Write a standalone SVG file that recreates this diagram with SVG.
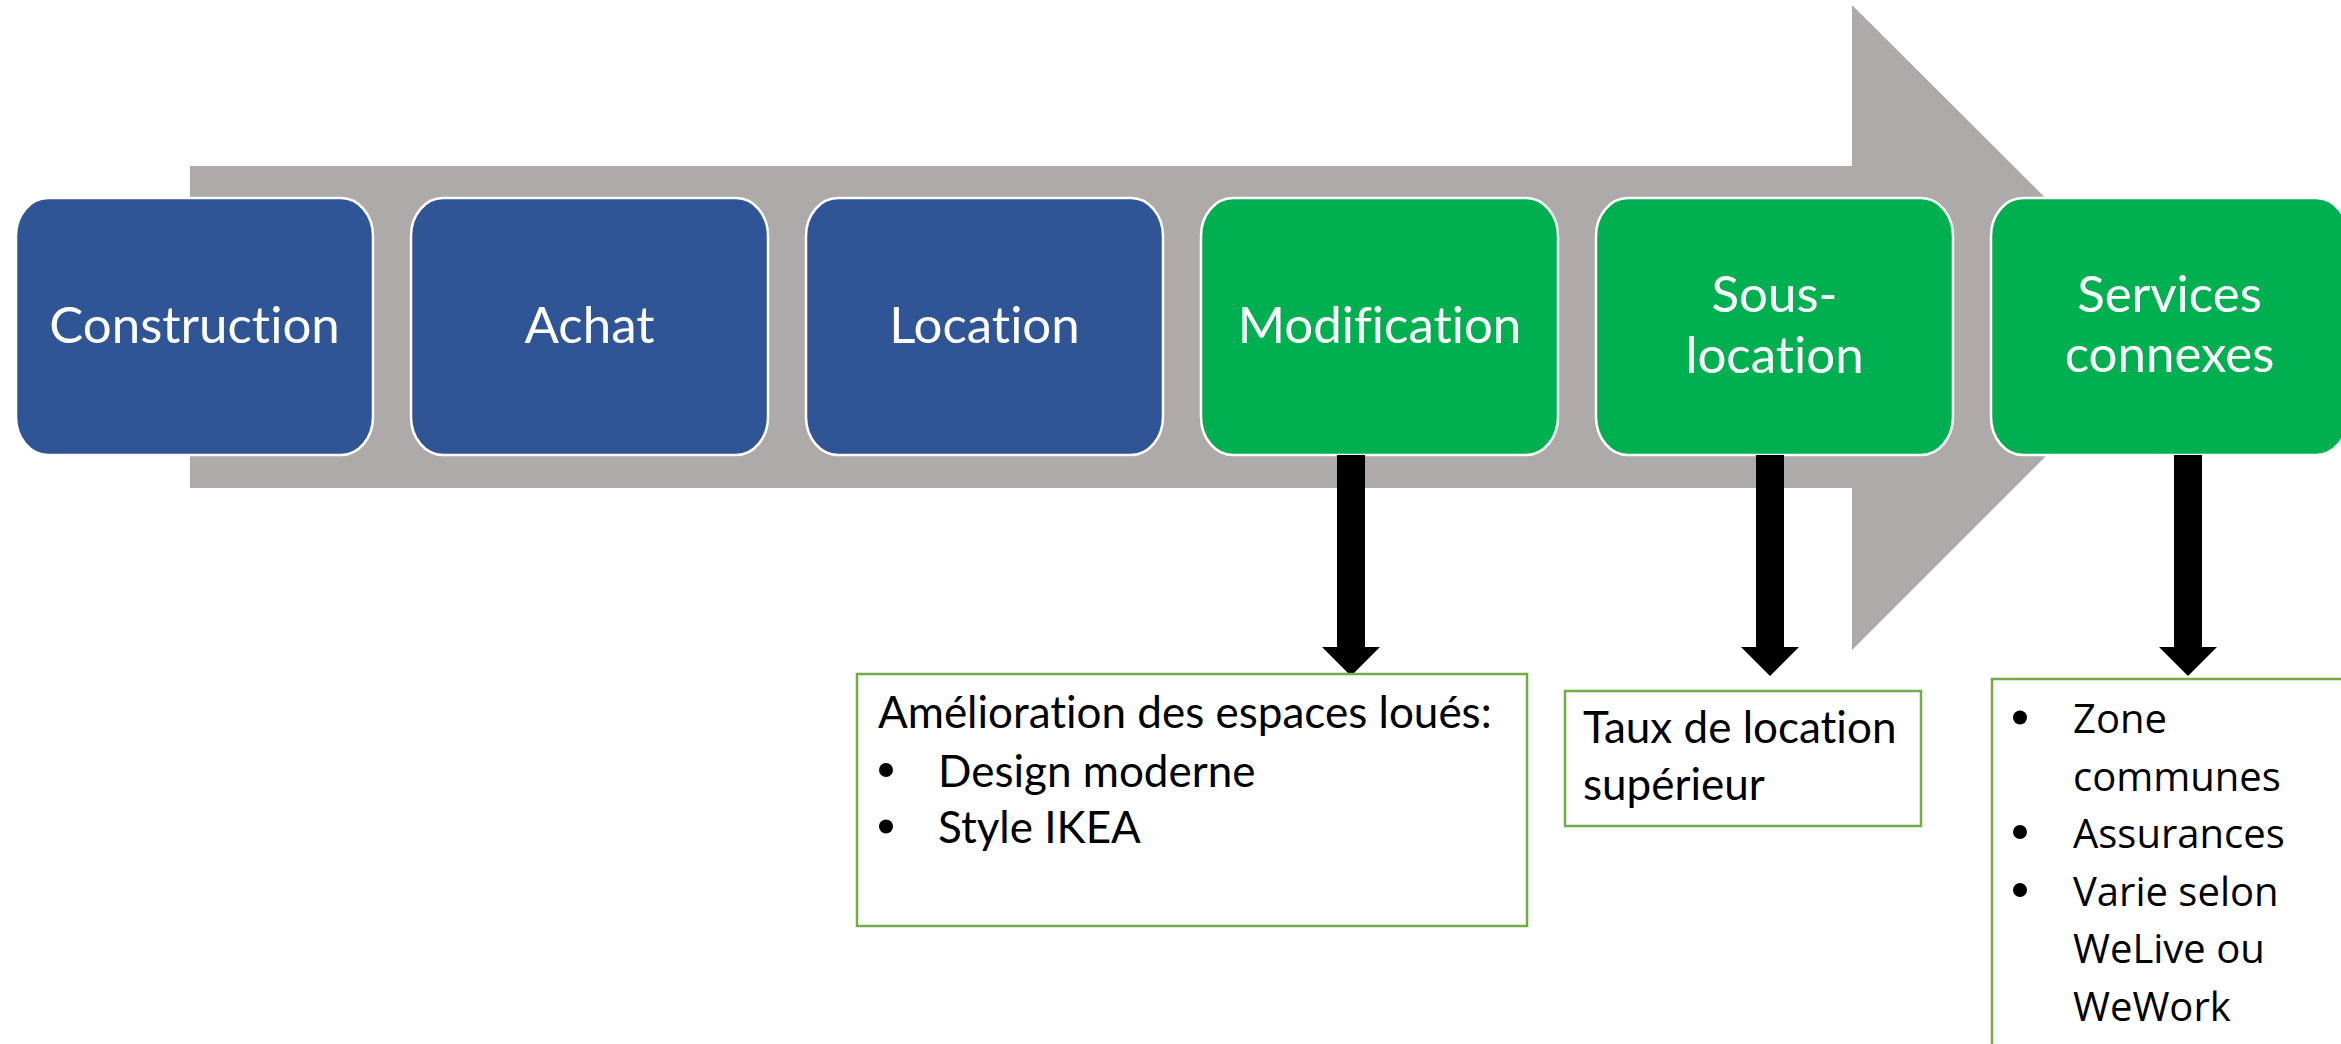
<svg xmlns="http://www.w3.org/2000/svg" width="2341" height="1044" viewBox="0 0 2341 1044">
  <style>
    text { font-variant-ligatures: none; }
    .step { stroke: #FFFFFF; stroke-width: 2.5; }
    .blue { fill: #2F5597; }
    .green { fill: #00B050; }
    .label { font-family: Lato, "Liberation Sans", sans-serif; font-size: 51px; fill: #FFFFFF; text-anchor: middle; }
    .note { fill: #FFFFFF; stroke: #70AD47; stroke-width: 2.5; }
    .notetext { font-family: Lato, "Liberation Sans", sans-serif; font-size: 44px; fill: #000000; }
    .listtext { font-family: "Open Sans", "Noto Sans", sans-serif; font-size: 40px; fill: #000000; }
    .dot { fill: #000000; }
    .down { fill: #000000; }
  </style>

  <rect width="2341" height="1044" fill="#FFFFFF"/>

  <!-- big process arrow behind the steps -->
  <path id="process-arrow" d="M190,166 H1852 V5 L2175,327 L1852,650 V488 H190 Z" fill="#AEAAAA"/>

  <!-- step boxes -->
  <g id="node-construction">
    <rect class="step blue" x="16" y="198" width="357" height="257" rx="32" ry="38"/>
    <text class="label" x="194.5" y="343">Construction</text>
  </g>
  <g id="node-achat">
    <rect class="step blue" x="411" y="198" width="357" height="257" rx="32" ry="38"/>
    <text class="label" x="589.5" y="343">Achat</text>
  </g>
  <g id="node-location">
    <rect class="step blue" x="806" y="198" width="357" height="257" rx="32" ry="38"/>
    <text class="label" x="984.5" y="343">Location</text>
  </g>
  <g id="node-modification">
    <rect class="step green" x="1201" y="198" width="357" height="257" rx="32" ry="38"/>
    <text class="label" x="1379.5" y="343">Modification</text>
  </g>
  <g id="node-sous-location">
    <rect class="step green" x="1596" y="198" width="357" height="257" rx="32" ry="38"/>
    <text class="label" x="1774.5" y="312">Sous-</text>
    <text class="label" x="1774.5" y="373">location</text>
  </g>
  <g id="node-services">
    <rect class="step green" x="1991" y="198" width="357" height="257" rx="32" ry="38"/>
    <text class="label" x="2169.5" y="312">Services</text>
    <text class="label" x="2169.5" y="372">connexes</text>
  </g>

  <!-- downward connectors -->
  <g id="connectors">
    <path class="down" d="M1337,455 H1365 V647 H1380 L1351,676 L1322,647 H1337 Z"/>
    <path class="down" d="M1756,455 H1784 V647 H1799 L1770,676 L1741,647 H1756 Z"/>
    <path class="down" d="M2174,455 H2202 V647 H2217 L2188,676 L2159,647 H2174 Z"/>
  </g>

  <!-- detail notes -->
  <g id="note-modification">
    <rect class="note" x="857" y="674" width="670" height="252"/>
    <text class="notetext" x="878" y="728">Amélioration des espaces loués:</text>
    <circle class="dot" cx="886" cy="770" r="7"/>
    <text class="notetext" x="938" y="787">Design moderne</text>
    <circle class="dot" cx="886" cy="826.5" r="7"/>
    <text class="notetext" x="938" y="843">Style IKEA</text>
  </g>
  <g id="note-sous-location">
    <rect class="note" x="1565" y="691" width="356" height="135"/>
    <text class="notetext" x="1583" y="743">Taux de location</text>
    <text class="notetext" x="1583" y="800">supérieur</text>
  </g>
  <g id="note-services">
    <rect class="note" x="1992" y="679" width="420" height="420"/>
    <circle class="dot" cx="2020" cy="717.5" r="7"/>
    <text class="listtext" x="2073" y="733">Zone</text>
    <text class="listtext" x="2073" y="791">communes</text>
    <circle class="dot" cx="2020" cy="832" r="7"/>
    <text class="listtext" x="2073" y="848">Assurances</text>
    <circle class="dot" cx="2020" cy="890" r="7"/>
    <text class="listtext" x="2073" y="906">Varie selon</text>
    <text class="listtext" x="2073" y="963">WeLive ou</text>
    <text class="listtext" x="2073" y="1021">WeWork</text>
  </g>
</svg>
